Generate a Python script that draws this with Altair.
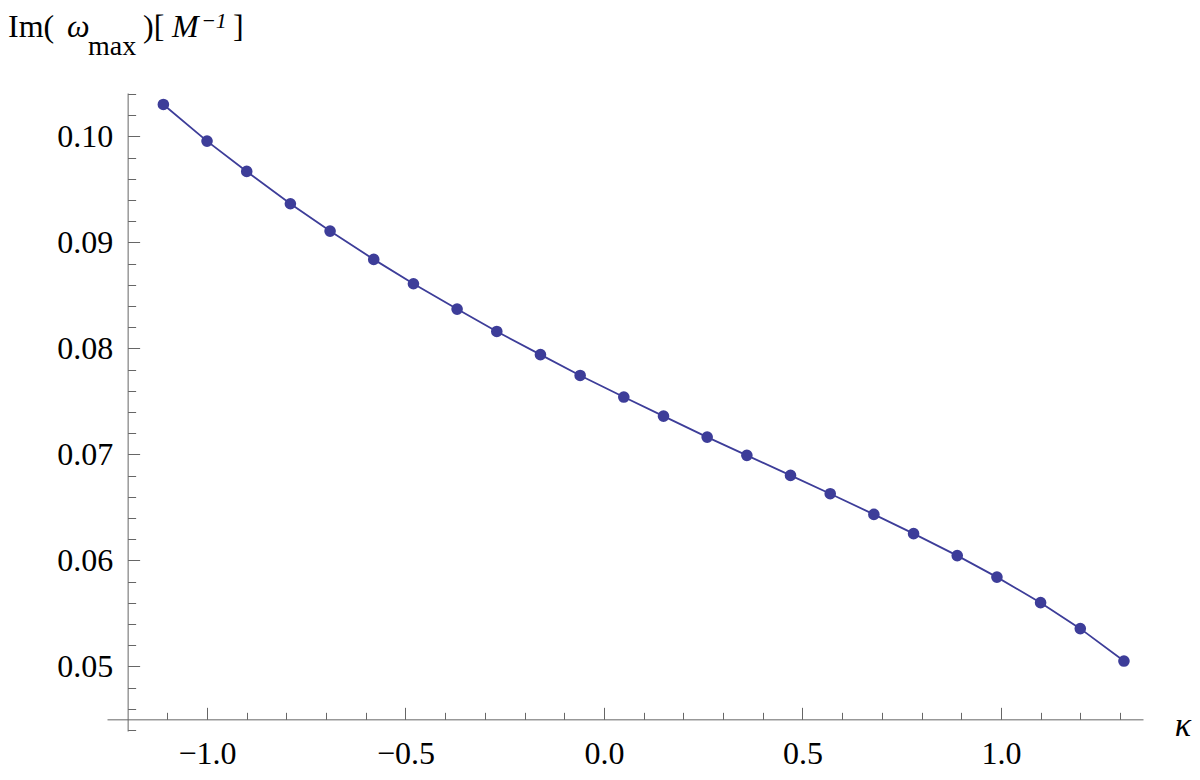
import altair as alt
import pandas as pd

# ---- data ----
KAPPA = [-1.11, -1.00, -0.90, -0.79, -0.69, -0.58, -0.48, -0.37, -0.27, -0.16,
         -0.06, 0.05, 0.15, 0.26, 0.36, 0.47, 0.57, 0.68, 0.78, 0.89,
         0.99, 1.10, 1.20, 1.31]
IM_OMEGA = [0.10302, 0.09956, 0.09670, 0.09365, 0.09107, 0.08840, 0.08610, 0.08371,
            0.08160, 0.07941, 0.07745, 0.07541, 0.07361, 0.07163, 0.06991, 0.06802,
            0.06629, 0.06434, 0.06252, 0.06045, 0.05842, 0.05601, 0.05356, 0.05050]

X_MAJOR = [-1.0, -0.5, 0.0, 0.5, 1.0]
X_MINOR = [-1.1, -0.9, -0.8, -0.7, -0.6, -0.4, -0.3, -0.2, -0.1,
           0.1, 0.2, 0.3, 0.4, 0.6, 0.7, 0.8, 0.9, 1.1, 1.2, 1.3]
Y_MAJOR = [0.05, 0.06, 0.07, 0.08, 0.09, 0.10]
Y_MINOR = [0.044, 0.046, 0.048, 0.052, 0.054, 0.056, 0.058, 0.062, 0.064, 0.066, 0.068,
           0.072, 0.074, 0.076, 0.078, 0.082, 0.084, 0.086, 0.088, 0.092, 0.094,
           0.096, 0.098, 0.102, 0.104]

TITLE_PARTS = ["Im(", "ω", "max", ")[", "M", "−1", "]"]
X_TITLE = "κ"

df = pd.DataFrame({"kappa": KAPPA, "im": IM_OMEGA})

# ---- layout / style ----
W, H = 1036, 638
XDOM = [-1.252, 1.358]
YDOM = [0.0439, 0.1041]
X_CROSS = -1.2
Y_CROSS = 0.045
x_off = (X_CROSS - XDOM[0]) / (XDOM[1] - XDOM[0]) * W
y_off = (Y_CROSS - YDOM[0]) / (YDOM[1] - YDOM[0]) * H

AX = "#666666"
COL = "#3d3d99"
FONT = "Liberation Serif, Times New Roman, serif"
LBL = 32

xs = alt.Scale(domain=XDOM, nice=False, zero=False)
ys = alt.Scale(domain=YDOM, nice=False, zero=False)


def tick_axis_x(values, size, domain):
    return alt.Axis(orient="top", offset=-(H - y_off), values=values, tickSize=size,
                    labels=False, grid=False, domain=domain, domainColor=AX,
                    tickColor=AX, tickWidth=1, domainWidth=1)


def tick_axis_y(values, size, domain):
    return alt.Axis(orient="right", offset=-(W - x_off), values=values, tickSize=size,
                    labels=False, grid=False, domain=domain, domainColor=AX,
                    tickColor=AX, tickWidth=1, domainWidth=1)


line = alt.Chart(df).mark_line(color=COL, strokeWidth=1.8).encode(
    x=alt.X("kappa:Q", scale=xs, title=None, axis=tick_axis_x(X_MAJOR, 12, True)),
    y=alt.Y("im:Q", scale=ys, title=None, axis=tick_axis_y(Y_MAJOR, 12, True)),
)

pts = alt.Chart(df).mark_circle(color=COL, size=135, opacity=1).encode(
    x=alt.X("kappa:Q", scale=xs, title=None, axis=tick_axis_x(X_MINOR, 7, False)),
    y=alt.Y("im:Q", scale=ys, title=None, axis=tick_axis_y(Y_MINOR, 8, False)),
)

labels = alt.Chart(df).mark_point(opacity=0).encode(
    x=alt.X("kappa:Q", scale=xs, title=None,
            axis=alt.Axis(orient="bottom", offset=-y_off, values=X_MAJOR, ticks=False,
                          tickSize=0, domain=False, grid=False, format=".1f",
                          labelFont=FONT, labelFontSize=LBL, labelColor="black",
                          labelBaseline="alphabetic", labelPadding=44)),
    y=alt.Y("im:Q", scale=ys, title=None,
            axis=alt.Axis(orient="left", offset=-x_off, values=Y_MAJOR, ticks=False,
                          tickSize=0, domain=False, grid=False, format=".2f",
                          labelFont=FONT, labelFontSize=LBL, labelColor="black",
                          labelPadding=15)),
)


def txt(s, x, y, size, italic=False, align="left"):
    return alt.Chart(pd.DataFrame({"t": [s]})).mark_text(
        font=FONT, fontSize=size, fontStyle="italic" if italic else "normal",
        align=align, baseline="alphabetic", color="black",
    ).encode(text="t:N", x=alt.value(x), y=alt.value(y))


# title pieces (positions relative to the plot area origin)
title_layers = [
    txt(TITLE_PARTS[0], -99, -56, 32),
    txt(TITLE_PARTS[1], -40, -56, 32, italic=True),
    txt(TITLE_PARTS[2], -19, -38, 28),
    txt(TITLE_PARTS[3], 36, -56, 32),
    txt(TITLE_PARTS[4], 65, -56, 32, italic=True),
    txt(TITLE_PARTS[5], 94, -65, 22, italic=True),
    txt(TITLE_PARTS[6], 126, -56, 32),
    txt(X_TITLE, 1076, 643, 34, italic=True, align="center"),
]

chart = alt.layer(line, pts, labels, *title_layers).resolve_scale(
    x="independent", y="independent"
).properties(
    width=W, height=H,
    autosize=alt.AutoSizeParams(type="none"),
    padding={"left": 99, "top": 85, "right": 49, "bottom": 41},
    background="white",
).configure_view(strokeWidth=0)

chart.save("out.html", embed_options={"renderer": "svg", "actions": False})
